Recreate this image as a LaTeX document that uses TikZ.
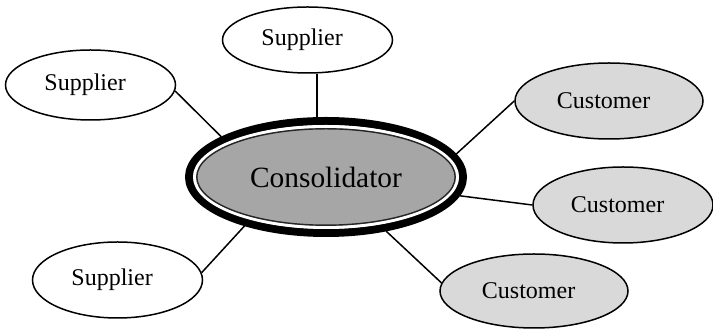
\documentclass[tikz,border=0pt]{standalone}
\usepackage{fontspec}
\setmainfont{Liberation Serif}
\usetikzlibrary{shapes.geometric}
\definecolor{hubgray}{RGB}{166,166,166}
\definecolor{custgray}{RGB}{217,217,217}
\tikzset{
  party/.style={ellipse, draw=black, line width=0.75pt, inner sep=0pt,
    font=\fontsize{12}{14}\selectfont,
    % text sits a little left of the ellipse centre
    execute at begin node={\kern-2.7pt}, execute at end node={\kern2.7pt}},
  supplier/.style={party, fill=white},
  customer/.style={party, fill=custgray},
  link/.style={draw=black, line width=0.75pt},
  hub/.style={ellipse, draw=black, line width=4pt, fill=hubgray, inner sep=0pt,
    minimum width=137pt, minimum height=56pt,
    font=\fontsize{14.7}{17}\selectfont}
}
\begin{document}
\begin{tikzpicture}[x=0.5pt,y=-0.5pt]
\useasboundingbox (0,0) rectangle (713,330);

% outer parties
\node[supplier, minimum width=85pt, minimum height=33pt] (stop)  at (307.5,40) {Supplier};
\node[supplier, minimum width=85pt, minimum height=35pt] (sleft) at (90.5,85) {Supplier};
\node[supplier, minimum width=85pt, minimum height=38pt] (sbot)  at (117.5,280) {Supplier};
\node[customer, minimum width=94pt, minimum height=38pt] (ctop)  at (609,101) {Customer};
\node[customer, minimum width=90pt, minimum height=38pt] (cmid)  at (623,205) {Customer};
\node[customer, minimum width=94pt, minimum height=37pt] (cbot)  at (534,291) {Customer};

% the hub with a thick-thin double border
\node[hub] (hub) at (326,177) {Consolidator};
\draw[white, line width=1.5pt] (hub.center) ellipse [x radius=65.75pt, y radius=25.25pt];
\draw[black!85, line width=0.7pt] (hub.center) ellipse [x radius=64.6pt, y radius=24.1pt];

% connectors
\path[link] (stop.-74) -- (stop.-74 |- hub.north);
\path[link] (sleft.-4) -- (hub.159);
\path[link] (sbot.5) -- (hub.211);
\path[link] (ctop.west) -- (hub.10);
\path[link] (cmid.west) -- (hub.-8);
\path[link] (cbot.175) -- (hub.-42);
\end{tikzpicture}
\end{document}
